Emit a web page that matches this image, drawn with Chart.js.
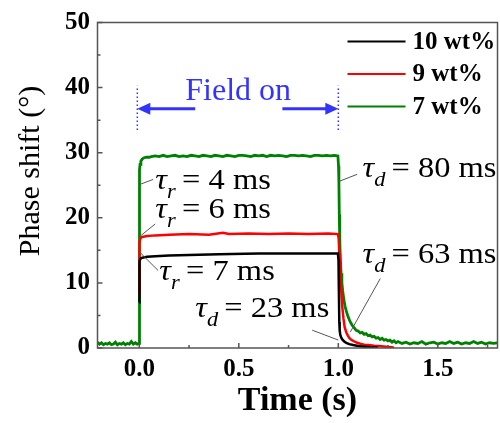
<!DOCTYPE html>
<html>
<head>
<meta charset="utf-8">
<script src="https://cdn.jsdelivr.net/npm/chart.js@4/dist/chart.umd.min.js"></script>
<style>
  html, body { margin: 0; padding: 0; background: #fff; }
</style>
</head>
<body>
<canvas id="chart" width="500" height="423"></canvas>
<script>
// ── data ─────────────────────────────────────────────────────────────
const X_MIN = -0.21, X_MAX = 1.8;
const Y_MIN = 0,     Y_MAX = 50;
const X_TICKS = [0, 0.5, 1.0, 1.5];
const X_MINOR = [0.25, 0.75, 1.25, 1.75];
const Y_TICKS = [0, 10, 20, 30, 40, 50];
const Y_MINOR = [5, 15, 25, 35, 45];

const SERIES_LABELS = ['10 wt%', '9 wt%', '7 wt%'];

// [time (s), phase shift (deg)]
const WT10 = [
  [0, 7.0], [0.001, 13.2], [0.004, 13.6], [0.01, 13.8], [0.02, 13.9], [0.04, 14.0],
  [0.08, 14.1], [0.15, 14.2], [0.25, 14.3], [0.4, 14.4], [0.6, 14.5], [0.8, 14.5],
  [0.998, 14.5], [1.001, 13.5], [1.003, 8.5], [1.005, 4.0], [1.007, 2.7], [1.010, 2.0],
  [1.015, 1.6], [1.022, 1.25], [1.030, 1.0], [1.040, 0.8], [1.055, 0.6], [1.075, 0.45],
  [1.10, 0.3], [1.13, 0.2], [1.16, 0.1], [1.2, 0.05]
];

const WT9 = [
  [0, 8.5], [0.001, 16.2], [0.004, 16.7], [0.01, 17.0], [0.02, 17.1], [0.04, 17.2],
  [0.08, 17.3], [0.15, 17.4], [0.25, 17.5], [0.35, 17.4], [0.42, 17.7], [0.45, 17.5],
  [0.55, 17.6], [0.65, 17.5], [0.75, 17.6], [0.85, 17.5], [0.95, 17.6], [0.998, 17.5],
  [1.002, 16.8], [1.005, 14.5], [1.008, 12.2], [1.012, 10.4], [1.016, 8.2], [1.020, 6.3],
  [1.026, 4.5], [1.032, 3.2], [1.040, 2.4], [1.048, 1.9], [1.056, 1.5], [1.068, 1.2],
  [1.080, 1.0], [1.095, 0.8], [1.110, 0.65], [1.13, 0.5], [1.15, 0.45], [1.18, 0.35],
  [1.205, 0.3], [1.24, 0.2], [1.27, 0.1], [1.28, 0.05]
];

const WT7 = [
  [-0.21, 0.9], [-0.20, 0.6], [-0.19, 0.8], [-0.18, 0.5], [-0.17, 0.7], [-0.16, 0.6],
  [-0.15, 0.8], [-0.14, 0.5], [-0.13, 0.6], [-0.12, 0.9], [-0.11, 0.5], [-0.10, 0.7],
  [-0.09, 0.6], [-0.08, 0.8], [-0.07, 0.5], [-0.06, 0.7], [-0.05, 0.6], [-0.04, 1.0],
  [-0.03, 0.6], [-0.02, 0.8], [-0.01, 0.6], [0, 0.7],
  [0.001, 27.4], [0.004, 28.2], [0.008, 28.7], [0.014, 29.0], [0.022, 29.2], [0.035, 29.3],
  [0.05, 29.3], [0.06, 29.4], [0.08, 29.5], [0.10, 29.4], [0.12, 29.6], [0.14, 29.4],
  [0.16, 29.5], [0.18, 29.6], [0.20, 29.4], [0.22, 29.5], [0.24, 29.4], [0.26, 29.6],
  [0.28, 29.5], [0.30, 29.4], [0.32, 29.6], [0.34, 29.5], [0.36, 29.4], [0.38, 29.6],
  [0.40, 29.5], [0.42, 29.4], [0.44, 29.6], [0.46, 29.5], [0.48, 29.4], [0.50, 29.6],
  [0.52, 29.6], [0.54, 29.5], [0.56, 29.4], [0.58, 29.6], [0.60, 29.5], [0.62, 29.6],
  [0.64, 29.4], [0.66, 29.6], [0.68, 29.5], [0.70, 29.6], [0.72, 29.5], [0.74, 29.4],
  [0.76, 29.6], [0.78, 29.6], [0.80, 29.5], [0.82, 29.6], [0.84, 29.5], [0.86, 29.4],
  [0.88, 29.6], [0.90, 29.6], [0.92, 29.5], [0.94, 29.6], [0.96, 29.5], [0.98, 29.6],
  [0.998, 29.5], [1.001, 28.0], [1.003, 25.6], [1.005, 20.5], [1.007, 17.0], [1.010, 14.0],
  [1.014, 11.5], [1.018, 10.0], [1.022, 8.8], [1.028, 7.4], [1.034, 6.4], [1.040, 5.7],
  [1.048, 4.9], [1.056, 4.3], [1.064, 3.8], [1.072, 3.4], [1.080, 3.1], [1.090, 2.7],
  [1.100, 2.6], [1.110, 2.3], [1.120, 2.4], [1.130, 2.1], [1.140, 2.2], [1.150, 1.9],
  [1.160, 2.0], [1.170, 1.7], [1.180, 1.8], [1.190, 1.5], [1.200, 1.6], [1.210, 1.3],
  [1.220, 1.5], [1.230, 1.2], [1.240, 1.3], [1.250, 1.1], [1.260, 1.2], [1.270, 0.9],
  [1.280, 1.1], [1.290, 0.8], [1.30, 1.0], [1.32, 0.7], [1.34, 0.9], [1.36, 0.6],
  [1.38, 0.8], [1.40, 0.7], [1.42, 1.0], [1.44, 0.6], [1.46, 0.8], [1.48, 0.9],
  [1.50, 0.6], [1.52, 0.8], [1.54, 0.7], [1.56, 1.0], [1.58, 0.7], [1.60, 0.9],
  [1.62, 0.6], [1.64, 0.8], [1.66, 0.7], [1.68, 1.0], [1.70, 0.7], [1.72, 0.9],
  [1.74, 0.6], [1.76, 0.8], [1.78, 0.7], [1.80, 0.8]
];

// annotation text (data coordinates: left edge of tau, baseline)
const TAU_NOTES = [
  { sub: 'r', text: '= 4 ms',  at: [0.080, 24.5], lead: [[0.005, 25.15], [0.070, 25.9]] },
  { sub: 'r', text: '= 6 ms',  at: [0.080, 19.97], lead: [[0.005, 17.2], [0.080, 19.05]] },
  { sub: 'r', text: '= 7 ms',  at: [0.100, 10.52], lead: [[0.005, 14.63], [0.095, 11.89]] },
  { sub: 'd', text: '= 23 ms', at: [0.281, 4.73], lead: [[0.869, 2.74], [1.0, 1.22]] },
  { sub: 'd', text: '= 80 ms', at: [1.121, 26.22], lead: [[1.005, 25.61], [1.095, 26.68]] },
  { sub: 'd', text: '= 63 ms', at: [1.121, 13.11], lead: [[1.211, 10.67], [1.060, 2.44]] }
];
const FIELD_ON = { text: 'Field on', at: [0.231, 38.1], arrowY: 36.74,
                   left: [0.281, -0.01], right: [0.719, 1.0], marks: [-0.01, 1.0], markY: [33.5, 40.3] };

// ── style ────────────────────────────────────────────────────────────
const COLORS = ['#000000', '#ff0000', '#008000'];
const BLUE = '#3333ff';
const AXIS_COLOR = '#555555';
const SERIF = '"Liberation Serif", "Times New Roman", serif';

const toXY = arr => arr.map(([x, y]) => ({ x, y }));

const overlay = {
  id: 'overlay',
  afterDatasetsDraw(chart) {
    const { ctx, chartArea: a, scales: { x, y } } = chart;
    const px = t => x.getPixelForValue(t);
    const py = v => y.getPixelForValue(v);
    ctx.save();

    // frame + inward ticks
    ctx.strokeStyle = AXIS_COLOR;
    ctx.lineWidth = 1.5;
    ctx.strokeRect(a.left, a.top, a.right - a.left, a.bottom - a.top);
    ctx.beginPath();
    X_TICKS.forEach(t => { ctx.moveTo(px(t), a.bottom); ctx.lineTo(px(t), a.bottom - 5); });
    X_MINOR.forEach(t => { ctx.moveTo(px(t), a.bottom); ctx.lineTo(px(t), a.bottom - 3); });
    Y_TICKS.forEach(v => { ctx.moveTo(a.left, py(v)); ctx.lineTo(a.left + 5, py(v)); });
    Y_MINOR.forEach(v => { ctx.moveTo(a.left, py(v)); ctx.lineTo(a.left + 3, py(v)); });
    ctx.stroke();

    // y title
    ctx.save();
    ctx.translate(31, 171);
    ctx.rotate(-Math.PI / 2);
    ctx.fillStyle = '#000';
    ctx.font = '30px ' + SERIF;
    ctx.textAlign = 'center';
    ctx.textBaseline = 'middle';
    ctx.fillText('Phase shift (°)', 0, 0);
    ctx.restore();

    // legend
    ctx.textBaseline = 'middle';
    ctx.textAlign = 'left';
    ctx.font = 'bold 25px ' + SERIF;
    chart.data.datasets.forEach((ds, i) => {
      const ly = a.top + 19 + i * 32.5;
      ctx.strokeStyle = ds.borderColor;
      ctx.lineWidth = 2;
      ctx.beginPath();
      ctx.moveTo(a.right - 150, ly);
      ctx.lineTo(a.right - 92, ly);
      ctx.stroke();
      ctx.fillStyle = '#000';
      ctx.fillText(ds.label, a.right - 85, ly + 1);
    });

    // field on
    ctx.fillStyle = BLUE;
    ctx.strokeStyle = BLUE;
    ctx.font = '32px ' + SERIF;
    ctx.textBaseline = 'alphabetic';
    ctx.fillText(FIELD_ON.text, px(FIELD_ON.at[0]), py(FIELD_ON.at[1]));
    const ay = py(FIELD_ON.arrowY);
    [FIELD_ON.left, FIELD_ON.right].forEach(([from, to]) => {
      const x0 = px(from), x1 = px(to), dir = Math.sign(x1 - x0);
      ctx.lineWidth = 3;
      ctx.beginPath();
      ctx.moveTo(x0, ay);
      ctx.lineTo(x1 - dir * 10, ay);
      ctx.stroke();
      ctx.beginPath();
      ctx.moveTo(x1, ay);
      ctx.lineTo(x1 - dir * 13, ay - 6);
      ctx.lineTo(x1 - dir * 13, ay + 6);
      ctx.closePath();
      ctx.fill();
    });
    ctx.lineWidth = 1.5;
    ctx.setLineDash([1.5, 2.5]);
    FIELD_ON.marks.forEach(t => {
      ctx.beginPath();
      ctx.moveTo(px(t), py(FIELD_ON.markY[0]));
      ctx.lineTo(px(t), py(FIELD_ON.markY[1]));
      ctx.stroke();
    });
    ctx.setLineDash([]);

    // tau notes
    TAU_NOTES.forEach(n => {
      ctx.strokeStyle = '#555';
      ctx.lineWidth = 1;
      ctx.beginPath();
      ctx.moveTo(px(n.lead[0][0]), py(n.lead[0][1]));
      ctx.lineTo(px(n.lead[1][0]), py(n.lead[1][1]));
      ctx.stroke();

      const x0 = px(n.at[0]), y0 = py(n.at[1]);
      ctx.save();
      ctx.translate(x0, y0);
      ctx.scale(1.12, 1);
      ctx.fillStyle = '#000';
      ctx.font = 'italic 29px ' + SERIF;
      ctx.fillText('τ', 0, 0);
      ctx.font = 'italic 20px ' + SERIF;
      ctx.fillText(n.sub, 10.5, 9);
      ctx.font = '29px ' + SERIF;
      ctx.fillText(n.text, n.sub === 'r' ? 24 : 26, 0);
      ctx.restore();
    });

    ctx.restore();
  }
};

const datasets = [WT10, WT9, WT7].map((d, i) => ({
  label: SERIES_LABELS[i],
  data: toXY(d),
  borderColor: COLORS[i],
  backgroundColor: COLORS[i],
  borderWidth: i === 2 ? 2.8 : 2.5,
  pointRadius: 0,
  tension: 0,
  fill: false
}));

new Chart(document.getElementById('chart'), {
  type: 'line',
  data: { datasets },
  plugins: [overlay],
  options: {
    responsive: false,
    animation: false,
    devicePixelRatio: 1,
    layout: { padding: { top: 20, right: 2.5, left: 0, bottom: 0 } },
    plugins: { legend: { display: false }, tooltip: { enabled: false } },
    scales: {
      x: {
        type: 'linear',
        min: X_MIN,
        max: X_MAX,
        grid: { display: false, drawTicks: false },
        border: { display: false },
        afterBuildTicks: s => { s.ticks = X_TICKS.map(v => ({ value: v })); },
        afterFit: s => { s.height = 75; },
        ticks: {
          color: '#000',
          padding: 7,
          maxRotation: 0,
          font: { family: SERIF, size: 25, weight: 'bold' },
          callback: v => v.toFixed(1)
        },
        title: {
          display: true,
          text: 'Time (s)',
          color: '#000',
          font: { family: SERIF, size: 34, weight: 'bold' },
          padding: { top: 0, bottom: 1 }
        }
      },
      y: {
        type: 'linear',
        min: Y_MIN,
        max: Y_MAX,
        grid: { display: false, drawTicks: false },
        border: { display: false },
        afterBuildTicks: s => { s.ticks = Y_TICKS.map(v => ({ value: v })); },
        afterFit: s => { s.width = 97.5; },
        ticks: {
          color: '#000',
          padding: 7.5,
          font: { family: SERIF, size: 25, weight: 'bold' },
          callback: v => String(v)
        }
      }
    }
  }
});
</script>
</body>
</html>
